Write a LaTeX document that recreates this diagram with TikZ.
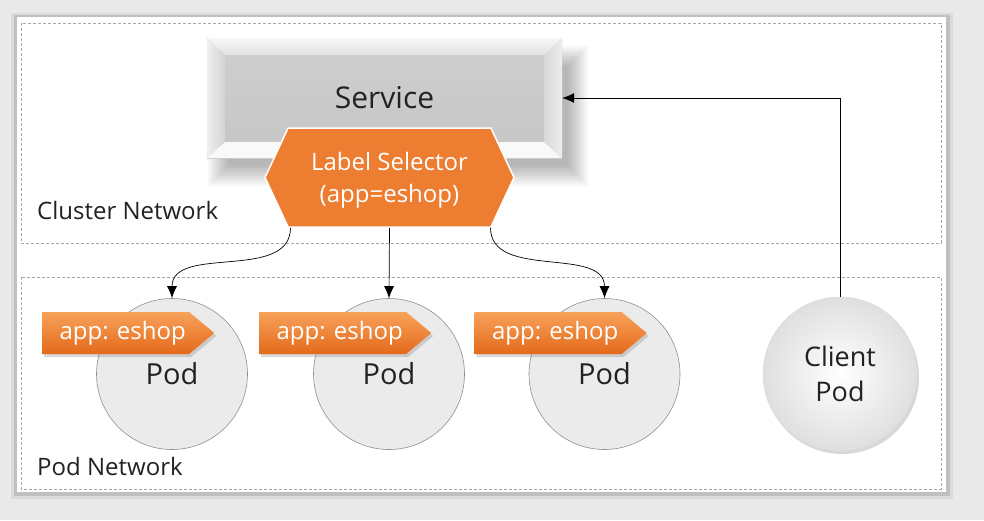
\documentclass[tikz,border=0pt]{standalone}
\usepackage{fontspec}
\setmainfont{Open Sans}
\usetikzlibrary{positioning,calc,shapes.symbols,shadows,arrows.meta}
\definecolor{bggray}{HTML}{E9E9E9}
\definecolor{dashgray}{HTML}{A6A6A6}
\definecolor{podgray}{HTML}{EBEBEB}
\definecolor{podline}{HTML}{8F8F8F}
\definecolor{svcgray}{HTML}{C6C6C6}
\definecolor{selorange}{HTML}{ED7D31}
\definecolor{taglight}{HTML}{F7A25A}
\definecolor{tagdark}{HTML}{E4691A}
\definecolor{txt}{HTML}{222222}

\begin{document}
\begin{tikzpicture}[x=1pt,y=-1pt]
	\tikzstyle{every node}+=[inner sep=0pt, text=txt]
	\tikzstyle{netbox}=[draw=dashgray, line width=0.6pt, dash pattern=on 3pt off 2pt]
	\tikzstyle{pod}=[circle, minimum size=151pt, fill=podgray, draw=podline, line width=0.6pt, font=\fontsize{29}{30}\selectfont]
	\tikzstyle{tag}=[signal, signal to=east, signal pointer angle=80, minimum width=172pt, minimum height=42pt, anchor=west, top color=taglight, bottom color=tagdark, text=white, font=\fontsize{24}{26}\selectfont, drop shadow={shadow xshift=2pt, shadow yshift=-3pt, opacity=.3}]
	\tikzstyle{link}=[-{Latex[length=12pt,width=10pt]}, line width=0.7pt, black]
	\useasboundingbox (0,0) rectangle (984,520);
	\fill[bggray] (0,0) rectangle (984,520);
	% panel with shadow
	\fill[black, opacity=.06] (11,13) rectangle (953,499);
	\fill[black, opacity=.12] (14,15) rectangle (950,496);
	\fill[white] (17,17) rectangle (946,492);
	\draw[netbox] (21,23) rectangle (941,243);
	\draw[netbox] (21,277) rectangle (941,489);
	\node[anchor=west, font=\fontsize{24}{26}\selectfont] (cnet) at (37,210) {Cluster Network};
	\node[anchor=west, font=\fontsize{24}{26}\selectfont] (pnet) at (37,466) {Pod Network};
	% service, soft shadow first
	\foreach \s in {0,2,...,20}
		\fill[black, opacity=.028] (228-\s,66-\s) rectangle (568+\s,166+\s);
	\node[minimum width=355pt, minimum height=120pt, top color=svcgray!85, bottom color=svcgray, font=\fontsize{30}{32}\selectfont] (service) at (384.5,98) {Service};
	\shade[top color=gray!6, bottom color=gray!22] (service.north west) -- (service.north east) -- ($(service.north east)+(-18,17)$) -- ($(service.north west)+(18,17)$) -- cycle;
	\shade[left color=gray!12, right color=gray!35] (service.north west) -- ($(service.north west)+(18,17)$) -- ($(service.south west)+(18,-16)$) -- (service.south west) -- cycle;
	\fill[gray!5] (service.south west) -- (service.south east) -- ($(service.south east)+(-18,-16)$) -- ($(service.south west)+(18,-16)$) -- cycle;
	\shade[left color=gray!30, right color=gray!14] (service.north east) -- ($(service.north east)+(-18,17)$) -- ($(service.south east)+(-18,-16)$) -- (service.south east) -- cycle;
	% label selector
	\node[signal, signal to=west and east, signal pointer angle=130, minimum width=249pt, minimum height=99pt, fill=selorange, draw=white, line width=1.5pt, text=white, align=center, text depth=0pt, font=\fontsize{24}{32}\selectfont] (sel) at (389.5,177.5) {Label Selector\\(app=eshop)};
	% pods
	\node[pod] (pod1) at (172,374) {Pod};
	\node[pod] (pod2) at (389,374) {Pod};
	\node[pod] (pod3) at (604.5,374) {Pod};
	\node[tag] (tag1) at ([xshift=-130pt,yshift=41pt]pod1.center) {\kern14pt app: eshop};
	\node[tag] (tag2) at ([xshift=-130pt,yshift=41pt]pod2.center) {\kern14pt app: eshop};
	\node[tag] (tag3) at ([xshift=-130pt,yshift=41pt]pod3.center) {\kern14pt app: eshop};
	\node[circle, minimum size=154pt, inner color=white, outer color=gray!25, draw=gray!30, line width=0.4pt, drop shadow={shadow xshift=2pt, shadow yshift=-3pt, opacity=.3}, align=center, font=\fontsize{27}{35}\selectfont] (client) at (840,374) {Client\\Pod};
	% connectors
	\draw[link] ([xshift=-99pt]sel.south) to[out=-90, in=90] (pod1.north);
	\draw[link] (sel.south) -- (pod2.north);
	\draw[link] ([xshift=101pt]sel.south) to[out=-90, in=90] (pod3.north);
	\draw[link] (client.north) |- (service.east);
\end{tikzpicture}
\end{document}
